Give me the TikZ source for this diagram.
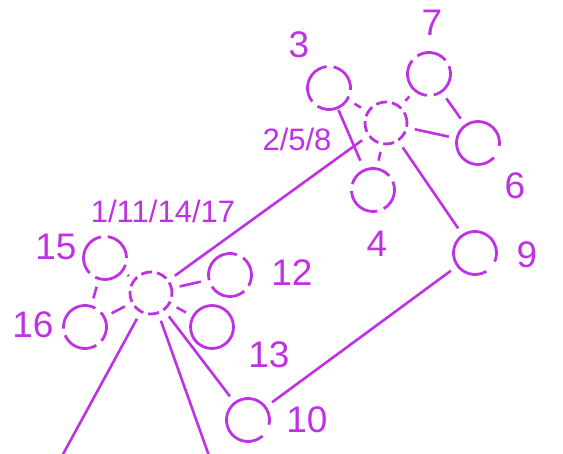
\documentclass[tikz,border=0pt]{standalone}
\usepackage{fontspec}
\setmainfont{Liberation Sans}
\usepackage{tikz}
\usetikzlibrary{positioning, calc}
\usepackage{xcolor}
\definecolor{violet}{RGB}{190,50,228}
\tikzstyle{hub} = [circle, draw=violet, line width=2.8pt, minimum size=42pt, inner sep=0pt, dash pattern=on 11pt off 5pt]
\tikzstyle{leaf} = [circle, draw=violet, line width=2.8pt, minimum size=43pt, inner sep=0pt, dash pattern=on 119pt off 13pt]
\tikzstyle{leafbroken} = [circle, draw=violet, line width=2.8pt, minimum size=43pt, inner sep=0pt, dash pattern=on 31pt off 7pt on 46pt off 7pt on 37pt off 7pt]
\tikzstyle{num} = [text=violet, inner sep=0pt, text depth=0pt, font=\fontsize{37}{39}\selectfont]
\tikzstyle{numsmall} = [num, font=\fontsize{31}{33}\selectfont]
\tikzstyle{bond} = [draw=violet, line width=2.6pt, shorten <=7pt, shorten >=7pt]

\begin{document}
\begin{tikzpicture}[x=1pt, y=-1pt]
  \useasboundingbox (0,0) rectangle (563,454);
  % upper group
  \node[hub] (grpA) at (386,123) {};
  \node[leafbroken, rotate=-5] (n3) at (329,88) {};
  \node[leafbroken, rotate=40] (n7) at (429,74) {};
  \node[leaf, rotate=0] (n6) at (478,143) {};
  \node[leafbroken, rotate=-60] (n4) at (373,190) {};
  \node[leaf, rotate=-16] (n9) at (475,253) {};
  % lower group
  \node[hub] (grpB) at (151,293) {};
  \node[leafbroken, rotate=0] (n15) at (105,258) {};
  \node[leafbroken, rotate=-40] (n16) at (85,327) {};
  \node[leafbroken, rotate=-30] (n12) at (230,275) {};
  \node[circle, draw=violet, line width=2.8pt, minimum size=43pt, inner sep=0pt] (n13) at (212,327) {};
  \node[leaf, rotate=-5] (n10) at (248,420) {};
  \coordinate (outL) at (56,467);
  \coordinate (outR) at (213,467);

  % labels
  \node[num] (lab3) at (299,45) {3};
  \node[num] (lab7) at (432,23) {7};
  \node[numsmall] (lab258) at (297,139) {2/5/8};
  \node[num] (lab6) at (515,186) {6};
  \node[num] (lab4) at (377,244) {4};
  \node[num] (lab9) at (527,255) {9};
  \node[numsmall] (lab1) at (163,211) {1/11/14/17};
  \node[num] (lab15) at (56,247) {15};
  \node[num] (lab16) at (33,325) {16};
  \node[num] (lab12) at (292,273) {12};
  \node[num] (lab13) at (269,355) {13};
  \node[num] (lab10) at (307,420) {10};

  \draw[bond] (grpA) -- (n3);
  \draw[bond] (grpA) -- (n7);
  \draw[bond] (grpA) -- (n6);
  \draw[bond] (grpA) -- (n4);
  \draw[bond] (grpA) -- (n9);
  \draw[bond, shorten <=1pt, shorten >=9pt] (n3) -- (n4);
  \draw[bond] (n7) -- (n6);
  \draw[bond] (grpA) -- (grpB);
  \draw[bond] (grpB) -- (n15);
  \draw[bond] (grpB) -- (n16);
  \draw[bond] (grpB) -- (n12);
  \draw[bond] (grpB) -- (n13);
  \draw[bond] (n15) -- (n16);
  \draw[bond] (grpB) -- (n10);
  \draw[bond] (n10) -- (n9);
  \draw[bond, shorten >=0pt] (grpB) -- (outL);
  \draw[bond, shorten >=0pt] (grpB) -- (outR);
\end{tikzpicture}
\end{document}
